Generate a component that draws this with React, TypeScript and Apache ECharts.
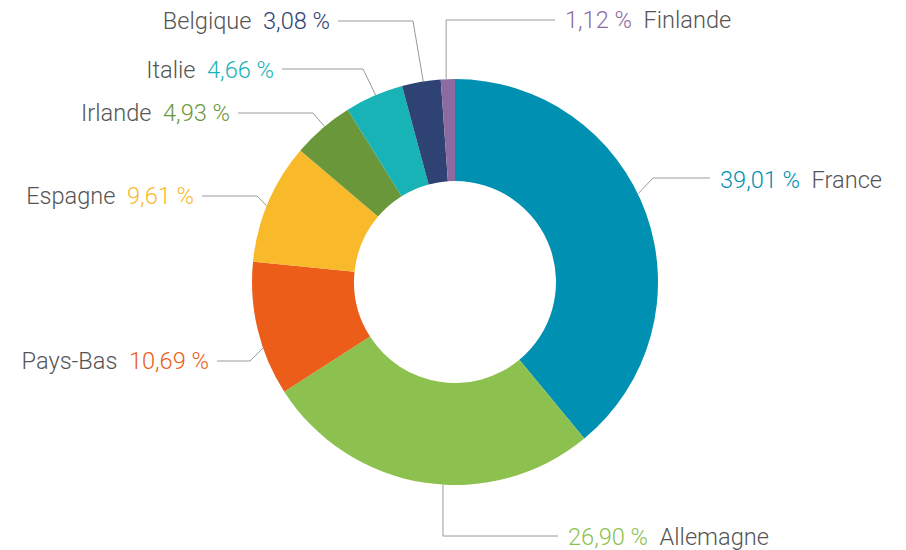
import React, { useEffect, useRef } from "react";
import * as echarts from "echarts";

const countries = ["France", "Allemagne", "Pays-Bas", "Espagne", "Irlande", "Italie", "Belgique", "Finlande"];
const shares = [39.01, 26.9, 10.69, 9.61, 4.93, 4.66, 3.08, 1.12];
const colors = ["#0090b2", "#8cc14f", "#ec5d1a", "#f8b92a", "#6b973b", "#17b3b6", "#2f4274", "#8d6ba0"];

// label layout (decoration only): anchor angle on the ring (deg clockwise from top),
// elbow point, line end, label side
const CX = 455;
const CY = 282;
const R_OUT = 203;
const R_IN = 101;
const FONT = 23.6;
const labelLayouts = [
  { deg: 64.3, elbow: [653, 178], end: [710, 178], side: "right", ly: 180, vertical: false },
  { deg: 183.4, elbow: [0, 536], end: [558, 536], side: "right", ly: 537, vertical: true },
  { deg: 251, elbow: [250, 361], end: [217, 361], side: "left", ly: 361, vertical: false },
  { deg: 292, elbow: [257, 196], end: [202, 196], side: "left", ly: 196, vertical: false },
  { deg: 320, elbow: [313, 113], end: [238, 113], side: "left", ly: 113, vertical: false },
  { deg: 337, elbow: [363, 69], end: [282, 69], side: "left", ly: 70, vertical: false },
  { deg: 351, elbow: [413, 21], end: [338, 21], side: "left", ly: 21, vertical: false },
  { deg: 357.5, elbow: [0, 20], end: [555, 20], side: "right", ly: 20, vertical: true },
];

const fmt = (v: number) => v.toFixed(2).replace(".", ",") + " %";

export default function App() {
  const ref = useRef<HTMLDivElement>(null);
  useEffect(() => {
    if (!ref.current) return;
    const chart = echarts.init(ref.current, null, { renderer: "svg" });
    const rich: any = {
      n: { color: "#555555", fontSize: FONT, fontFamily: "Roboto", fontWeight: 300 },
    };
    colors.forEach((c, i) => {
      rich["v" + i] = { color: c, fontSize: FONT, fontFamily: "Roboto", fontWeight: 300 };
    });
    chart.setOption({
      animation: false,
      backgroundColor: "#ffffff",
      series: [
        {
          type: "pie",
          silent: true,
          radius: [R_IN, R_OUT],
          center: [CX, CY],
          startAngle: 90,
          clockwise: true,
          avoidLabelOverlap: false,
          data: countries.map((name, i) => ({
            name,
            value: shares[i],
            itemStyle: { color: colors[i] },
          })),
          label: {
            show: true,
            position: "outside",
            fontFamily: "Roboto",
            fontSize: FONT,
            fontWeight: 300,
            formatter: (p: any) => {
              const i = p.dataIndex;
              const v = `{v${i}|${fmt(shares[i])}}`;
              const n = `{n|${countries[i]}}`;
              return labelLayouts[i].side === "right" ? `${v}  ${n}` : `${n}  ${v}`;
            },
            rich,
          },
          labelLine: {
            show: true,
            smooth: false,
            lineStyle: { color: "#9a9a9a", width: 1 },
          },
          labelLayout: (params: any) => {
            const L = labelLayouts[params.dataIndex];
            const a = (L.deg * Math.PI) / 180;
            const ax = CX + R_OUT * Math.sin(a);
            const ay = CY - R_OUT * Math.cos(a);
            const ex = L.vertical ? ax : L.elbow[0];
            const right = L.side === "right";
            return {
              x: right ? L.end[0] + 10 : L.end[0] - 8,
              y: L.ly,
              align: right ? "left" : "right",
              verticalAlign: "middle",
              labelLinePoints: [
                [ax, ay],
                [ex, L.elbow[1]],
                [L.end[0], L.end[1]],
              ],
            };
          },
        },
      ],
    });
    return () => chart.dispose();
  }, []);
  return (
    <div
      ref={ref}
      style={{ position: "fixed", left: 0, top: 0, width: 906, height: 550, background: "#fff" }}
    />
  );
}
